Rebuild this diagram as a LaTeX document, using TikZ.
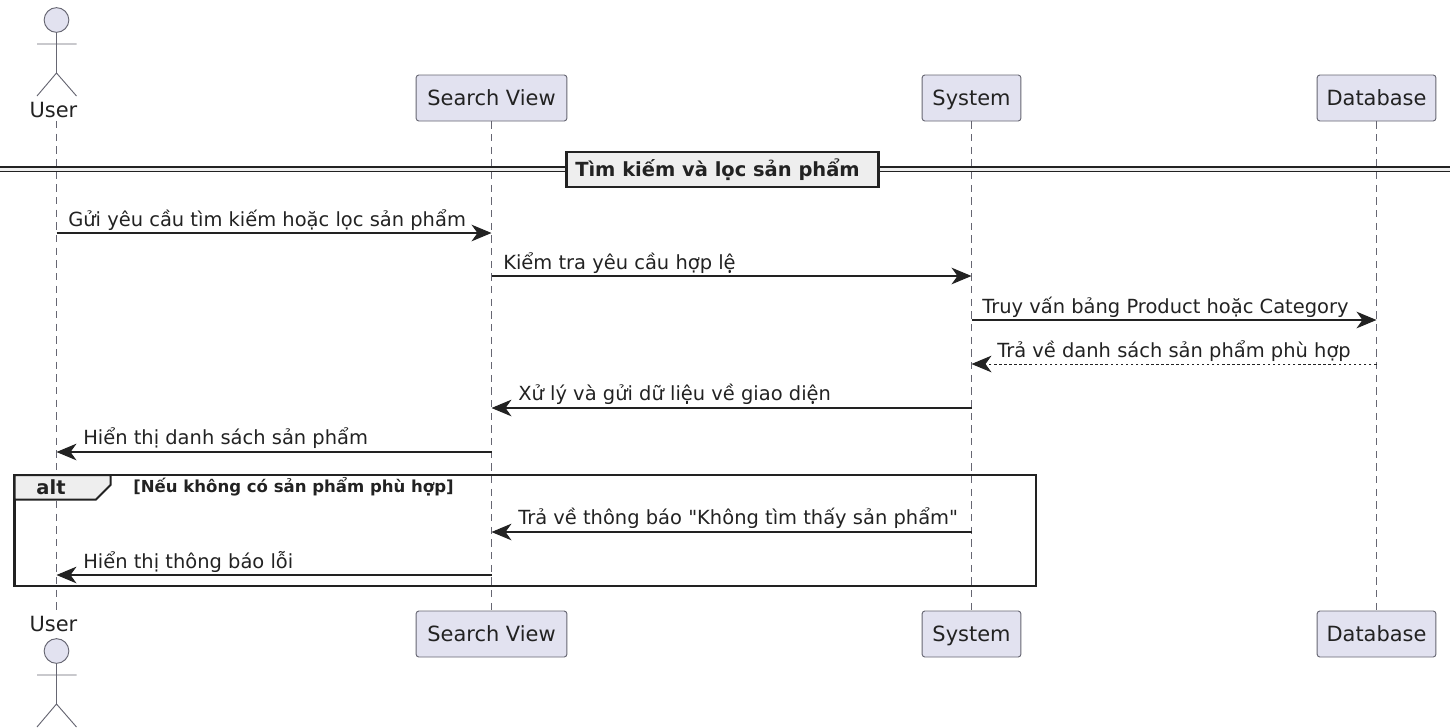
\documentclass[tikz,border=0pt]{standalone}
\usepackage{fontspec}
\setmainfont{DejaVu Sans}[Ligatures=TeXOff]
\usetikzlibrary{arrows.meta}
\definecolor{partfill}{HTML}{E2E2F0}
\definecolor{partline}{HTML}{666672}
\definecolor{ink}{HTML}{222222}
\definecolor{groupfill}{HTML}{EEEEEE}
\tikzset{
  x=0.75pt,y=-0.75pt,
  part/.style={draw=partline,fill=partfill,rounded corners=2pt,line width=0.7pt,minimum height=34.5pt,inner sep=0pt,font=\fontsize{15.7}{18}\selectfont,text=ink,text height=11.5pt,text depth=0pt},
  actorline/.style={draw=partline,line width=0.7pt},
  actorhead/.style={draw=partline,fill=partfill,line width=0.7pt},
  actorname/.style={font=\fontsize{15.7}{18}\selectfont,text=ink,inner sep=0pt},
  lifeline/.style={draw=partline,line width=0.6pt,dash pattern=on 5.5pt off 4pt},
  msg/.style={draw=ink,line width=0.8pt,-{Stealth[length=15pt,width=12.5pt,inset=4.5pt]}},
  reply/.style={msg,line width=0.75pt,dash pattern=on 1.9pt off 1.9pt},
  msglabel/.style={font=\fontsize{14.6}{16}\selectfont,text=ink,inner sep=0pt,anchor=base west},
  framebox/.style={draw=ink,line width=1.9pt},
}
\newcommand{\actorfig}[2]{%
  \node[actorhead,circle,minimum size=18.5pt,inner sep=0pt] (#1head) at (56.5,#2+12) {};
  \draw[actorline] (#1head.south) -- (56.5,#2+65)
     (37,#2+36) -- (76.5,#2+36)
     (37,#2+88) -- (56.5,#2+65) -- (76.5,#2+88);
}
\begin{document}
\begin{tikzpicture}
\useasboundingbox (0,0) rectangle (1450,728);
% participants
\coordinate (ut) at (56.5,121);
\coordinate (ub) at (56.5,610);
\node[part,minimum width=113pt] (st) at (491.5,98) {Search View};
\node[part,minimum width=74pt] (syt) at (971.5,98) {System};
\node[part,minimum width=89pt] (dt) at (1376.5,98) {Database};
\node[part,minimum width=113pt] (sb) at (491.5,634) {Search View};
\node[part,minimum width=74pt] (syb) at (971.5,634) {System};
\node[part,minimum width=89pt] (db) at (1376.5,634) {Database};
% lifelines
\draw[lifeline] (ut) -- (ub);
\draw[lifeline] (st) -- (sb);
\draw[lifeline] (syt) -- (syb);
\draw[lifeline] (dt) -- (db);
% actors
\actorfig{ua}{8}
\node[actorname] (utext) at (53.5,110) {User};
\actorfig{ub}{639}
\node[actorname] (ubtext) at (53.5,624) {User};
% divider
\fill[groupfill] (0,167) rectangle (1450,171.5);
\draw[ink,line width=1pt] (0,167) -- (1450,167) (0,171.5) -- (1450,171.5);
\node[draw=ink,fill=groupfill,line width=1.8pt,minimum width=234pt,minimum height=26pt,inner sep=0pt,font=\bfseries\fontsize{14.6}{16}\selectfont,text=ink] (div) at (722.5,169.5) {Tìm kiếm và lọc sản phẩm\kern7.5pt};
% messages
\foreach \n/\x/\y in {a/56.5/233,b/491.5/233,c/491.5/276,d/971.5/276,e/971.5/320,f/1376.5/320,g/1376.5/364,h/971.5/364,i/971.5/408,j/491.5/408,k/491.5/452,l/56.5/452,m/971.5/532,n/491.5/532,o/491.5/575,p/56.5/575}{\coordinate (\n) at (\x,\y);}
\draw[msg] (a) -- (b);
\node[msglabel] at (68,226) {Gửi yêu cầu tìm kiếm hoặc lọc sản phẩm};
\draw[msg] (c) -- (d);
\node[msglabel] at (503,269) {Kiểm tra yêu cầu hợp lệ};
\draw[msg] (e) -- (f);
\node[msglabel] at (982,313) {Truy vấn bảng Product hoặc Category};
\draw[reply] (g) -- (h);
\node[msglabel] at (997,357) {Trả về danh sách sản phẩm phù hợp};
\draw[msg] (i) -- (j);
\node[msglabel] at (518,400) {Xử lý và gửi dữ liệu về giao diện};
\draw[msg] (k) -- (l);
\node[msglabel] at (83,444) {Hiển thị danh sách sản phẩm};
% alt frame
\draw[framebox] (14.5,475) rectangle (1036,586);
\draw[framebox,fill=groupfill,line width=1.5pt] (14.5,475) -- (110.5,475) -- (110.5,485) -- (96,499.5) -- (14.5,499.5) -- cycle;
\node[font=\bfseries\fontsize{14.6}{16}\selectfont,text=ink,inner sep=0pt] (alttag) at (51,487) {alt};
\node[font=\bfseries\fontsize{12.4}{14}\selectfont,text=ink,inner sep=0pt,anchor=west] (altcond) at (133,487) {[Nếu không có sản phẩm phù hợp]};
\draw[msg] (m) -- (n);
\node[msglabel] at (518,524) {Trả về thông báo "Không tìm thấy sản phẩm"};
\draw[msg] (o) -- (p);
\node[msglabel] at (83,568) {Hiển thị thông báo lỗi};
\end{tikzpicture}
\end{document}
